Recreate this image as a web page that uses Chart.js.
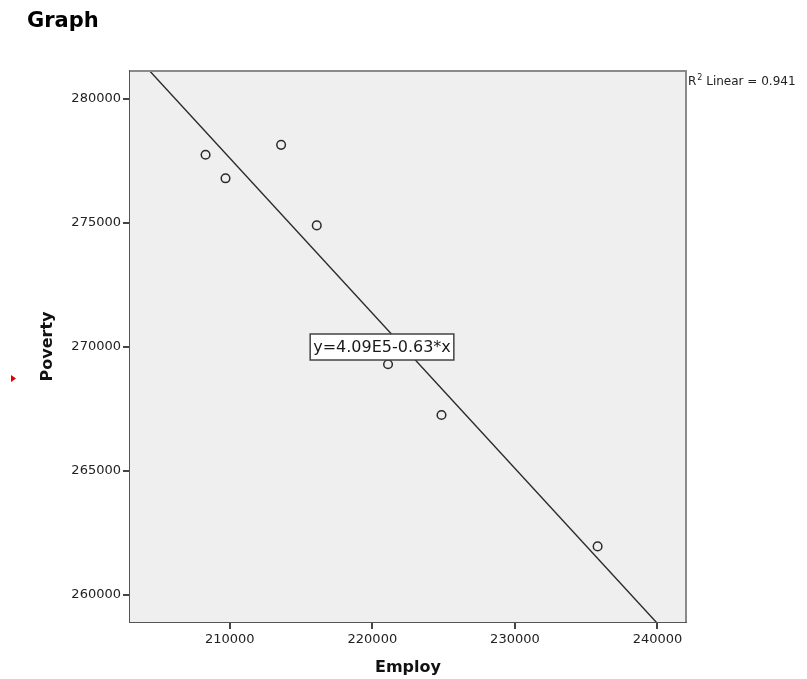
<!DOCTYPE html>
<html>
<head>
<meta charset="utf-8">
<title>Graph</title>
<script src="https://cdn.jsdelivr.net/npm/chart.js@4.4.1/dist/chart.umd.min.js"></script>
<style>
  body { margin: 0; background: #ffffff; }
  #wrap { width: 807px; height: 679px; }
</style>
</head>
<body>
<div id="wrap"><canvas id="graph" width="807" height="679"></canvas></div>
<script>
// Datos
const employ = [208300, 209700, 213600, 216100, 221100, 224850, 235800];
const poverty = [277750, 276800, 278150, 274900, 269300, 267250, 261950];

// Etiquetas de los ejes
const xTicks = [210000, 220000, 230000, 240000];
const yTicks = [260000, 265000, 270000, 275000, 280000];

const xRange = [203000, 242000];
const yRange = [258900, 281130];

// Textos del ajuste tal como aparecen
const r2Label = '0.941';
const equationLabel = 'y=4.09E5-0.63*x';

// Ajuste lineal por mínimos cuadrados
function linearFit(xs, ys) {
  const n = xs.length;
  const mx = xs.reduce((a, b) => a + b, 0) / n;
  const my = ys.reduce((a, b) => a + b, 0) / n;
  let sxy = 0, sxx = 0;
  for (let i = 0; i < n; i++) {
    sxy += (xs[i] - mx) * (ys[i] - my);
    sxx += (xs[i] - mx) * (xs[i] - mx);
  }
  const slope = sxy / sxx;
  return { slope, intercept: my - slope * mx };
}

const fit = linearFit(employ, poverty);
const fitLine = xRange.map(x => ({ x: x, y: fit.intercept + fit.slope * x }));

const FONT = "'DejaVu Sans', sans-serif";

// Plugin para el fondo, marco, título y anotaciones
const decorations = {
  id: 'decorations',
  beforeDatasetsDraw(chart) {
    const { ctx, chartArea: a } = chart;
    ctx.save();
    ctx.fillStyle = '#efefef';
    ctx.fillRect(a.left, a.top, a.right - a.left, a.bottom - a.top);
    ctx.restore();
  },
  afterDraw(chart) {
    const { ctx, chartArea: a } = chart;
    ctx.save();
    // marco superior y derecho
    ctx.strokeStyle = '#8a8a8a';
    ctx.lineWidth = 2;
    ctx.beginPath();
    ctx.moveTo(a.left, a.top);
    ctx.lineTo(a.right, a.top);
    ctx.lineTo(a.right, a.bottom);
    ctx.stroke();

    // título
    ctx.fillStyle = '#000';
    ctx.font = 'bold 21px ' + FONT;
    ctx.textBaseline = 'middle';
    ctx.textAlign = 'left';
    ctx.fillText('Graph', 27, 22);

    // R² Linear
    ctx.fillStyle = '#222';
    ctx.font = '12px ' + FONT;
    ctx.textBaseline = 'alphabetic';
    let x = a.right + 2;
    ctx.fillText('R', x, 85);
    x += ctx.measureText('R').width;
    ctx.font = '8px ' + FONT;
    ctx.fillText('2', x + 1, 80);
    x += ctx.measureText('2').width + 1;
    ctx.font = '12px ' + FONT;
    ctx.fillText(' Linear = ' + r2Label, x, 85);

    // ecuación en recuadro
    ctx.font = '16px ' + FONT;
    const w = ctx.measureText(equationLabel).width + 6;
    const cx = 382, cy = 347, h = 26;
    ctx.fillStyle = '#ffffff';
    ctx.fillRect(cx - w / 2, cy - h / 2, w, h);
    ctx.strokeStyle = '#444';
    ctx.lineWidth = 1.5;
    ctx.strokeRect(cx - w / 2, cy - h / 2, w, h);
    ctx.fillStyle = '#1a1a1a';
    ctx.textAlign = 'center';
    ctx.textBaseline = 'middle';
    ctx.fillText(equationLabel, cx, cy + 1);

    // pequeño marcador rojo
    ctx.fillStyle = '#e00000';
    ctx.beginPath();
    ctx.moveTo(11, 375);
    ctx.lineTo(16, 378.5);
    ctx.lineTo(11, 382);
    ctx.closePath();
    ctx.fill();
    ctx.restore();
  }
};

function axisOptions(range, ticks, titleText, isY) {
  return {
    type: 'linear',
    min: range[0],
    max: range[1],
    afterBuildTicks: scale => { scale.ticks = ticks.map(v => ({ value: v })); },
    afterFit: scale => {
      if (isY) scale.width = 130; else scale.height = 57;
    },
    grid: { drawOnChartArea: false, drawTicks: true, tickLength: 7, color: '#444', lineWidth: 2 },
    border: { display: true, color: '#555', width: 2 },
    ticks: {
      color: '#222',
      font: { family: FONT, size: 13 },
      padding: isY ? 2 : 3,
      maxRotation: 0,
      callback: v => String(v)
    },
    title: {
      display: true,
      text: titleText,
      color: '#111',
      font: { family: FONT, size: 16, weight: 'bold' },
      padding: isY ? { top: 38, bottom: 0 } : { top: 0, bottom: 2 }
    }
  };
}

const ctx = document.getElementById('graph').getContext('2d');
new Chart(ctx, {
  type: 'scatter',
  data: {
    datasets: [
      {
        label: 'Poverty',
        data: employ.map((x, i) => ({ x: x, y: poverty[i] })),
        pointRadius: 4.3,
        pointBorderWidth: 1.5,
        pointBorderColor: '#2a2a2a',
        pointBackgroundColor: 'rgba(0,0,0,0)'
      },
      {
        type: 'line',
        label: 'Fit',
        data: fitLine,
        borderColor: '#2a2a2a',
        borderWidth: 1.4,
        pointRadius: 0,
        fill: false
      }
    ]
  },
  options: {
    responsive: false,
    animation: false,
    layout: { padding: { top: 71, right: 121, left: 0, bottom: 0 } },
    plugins: {
      legend: { display: false },
      tooltip: { enabled: false }
    },
    scales: {
      x: axisOptions(xRange, xTicks, 'Employ', false),
      y: axisOptions(yRange, yTicks, 'Poverty', true)
    }
  },
  plugins: [decorations]
});
</script>
</body>
</html>
